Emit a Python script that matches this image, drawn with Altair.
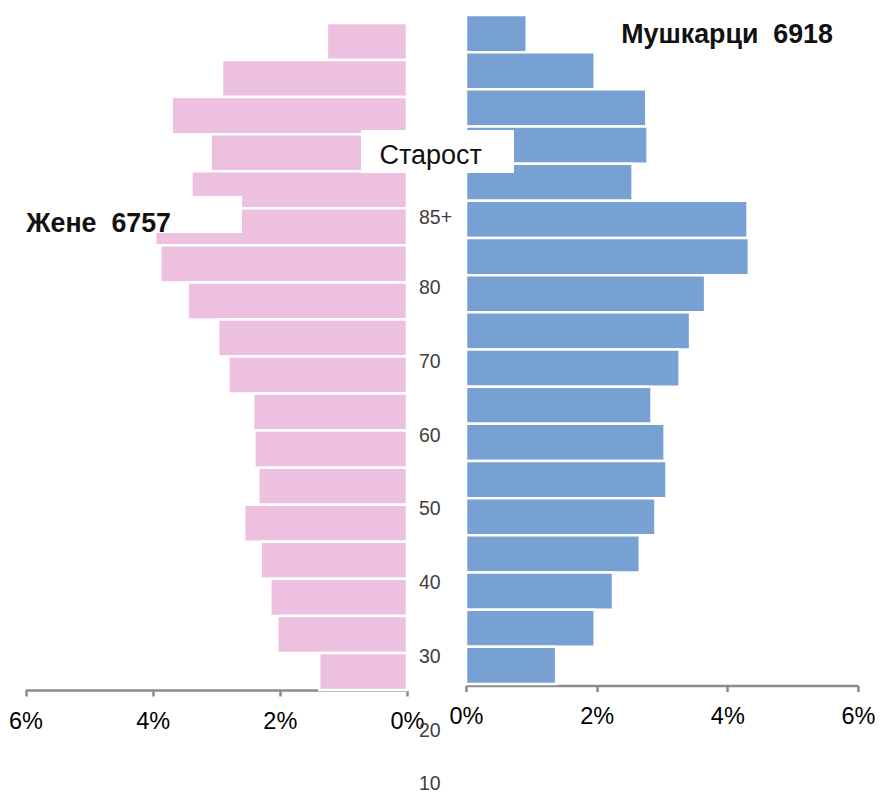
import altair as alt
import pandas as pd

# ---- data (top row = oldest group) ----
age_groups = ["85+", "80-84", "75-79", "70-74", "65-69", "60-64", "55-59", "50-54",
              "45-49", "40-44", "35-39", "30-34", "25-29", "20-24", "15-19", "10-14",
              "5-9", "0-4"]
women = [1.26, 2.91, 3.70, 3.09, 3.39, 3.96, 3.88, 3.45, 2.97, 2.81, 2.42, 2.40,
         2.34, 2.56, 2.30, 2.15, 2.04, 1.38]
men = [0.93, 1.97, 2.76, 2.78, 2.55, 4.31, 4.33, 3.66, 3.43, 3.27, 2.84, 3.04,
       3.07, 2.90, 2.66, 2.25, 1.97, 1.38]
tick_values = [0, 2, 4, 6]
age_label_text = ["85+", "80", "70", "60", "50", "40", "30", "20", "10"]
age_label_pos = [89.4, 80, 70, 60, 50, 40, 30, 20, 12.8]

title_women = "Жене\u00a0 6757"
title_men = "Мушкарци\u00a0 6918"
title_age = "Старост"

PINK = "#ECC0DE"
BLUE = "#78A1D3"

df = pd.DataFrame({"group": age_groups, "women": women, "men": men})
df["row"] = list(range(len(age_groups)))
df["row_end"] = df["row"] + 1

ages = pd.DataFrame({"label": age_label_text, "age": age_label_pos})
one = pd.DataFrame({"k": [0]})

pct_axis = dict(values=tick_values, labelExpr="datum.value + '%'", title=None,
                grid=False, labelFlush=False, labelBound=False, orient="bottom")

pink = alt.Chart(df).mark_rect(color=PINK, stroke="white", strokeWidth=2.5).encode(
    x=alt.X("women:Q", scale=alt.Scale(domain=[0, 6], range=[399, 17.5], nice=False, zero=False),
            axis=alt.Axis(**pct_axis)),
    x2=alt.datum(0),
    y=alt.Y("row:Q", scale=alt.Scale(domain=[0, 18], range=[15, 682], nice=False, zero=False),
            axis=None),
    y2="row_end:Q",
)

blue = alt.Chart(df).mark_rect(color=BLUE, stroke="white", strokeWidth=2.5).encode(
    x=alt.X("men:Q", scale=alt.Scale(domain=[0, 6], range=[458, 850], nice=False, zero=False),
            axis=alt.Axis(offset=-4.5, **pct_axis)),
    x2=alt.datum(0),
    y=alt.Y("row:Q", scale=alt.Scale(domain=[0, 18], range=[7, 676], nice=False, zero=False),
            axis=None),
    y2="row_end:Q",
)

age_text = alt.Chart(ages).mark_text(
    font="Liberation Sans", fontSize=19.5, color="#404040", align="left",
    baseline="alphabetic").encode(
    x=alt.value(411),
    y=alt.Y("age:Q", scale=alt.Scale(domain=[10, 80], range=[803, 285.7], nice=False, zero=False),
            axis=None),
    text="label:N",
)

box_age = alt.Chart(one).mark_rect(color="white").encode(
    x=alt.value(353), x2=alt.value(506), y=alt.value(122), y2=alt.value(165))
box_women = alt.Chart(one).mark_rect(color="white").encode(
    x=alt.value(0), x2=alt.value(234), y=alt.value(188), y2=alt.value(225))

txt_age = alt.Chart(one).mark_text(
    text=title_age, font="Liberation Sans", fontSize=27, color="#111111",
    align="left", baseline="alphabetic").encode(x=alt.value(371.5), y=alt.value(156))
txt_women = alt.Chart(one).mark_text(
    text=title_women, font="Liberation Sans", fontSize=26.8, fontWeight="bold", color="#111111",
    align="left", baseline="alphabetic").encode(x=alt.value(18.3), y=alt.value(224))
txt_men = alt.Chart(one).mark_text(
    text=title_men, font="Liberation Sans", fontSize=26.8, fontWeight="bold", color="#111111",
    align="left", baseline="alphabetic").encode(x=alt.value(613.2), y=alt.value(35.3))

chart = alt.layer(
    pink, blue, box_age, box_women, txt_age, txt_women, txt_men, age_text
).resolve_scale(
    x="independent", y="independent"
).properties(
    width=867, height=682,
    autosize=alt.AutoSizeParams(type="none"),
    padding={"left": 0, "top": 0, "right": 0, "bottom": 109},
).configure_view(
    stroke=None
).configure_axis(
    domainColor="#8C8C8C", domainWidth=2.5, tickColor="#8C8C8C", tickWidth=2.5,
    tickSize=6, labelFont="Liberation Sans", labelFontSize=23.5, labelColor="#000000",
    labelPadding=13,
)

chart.save("out.html", embed_options={"renderer": "svg", "actions": False})
